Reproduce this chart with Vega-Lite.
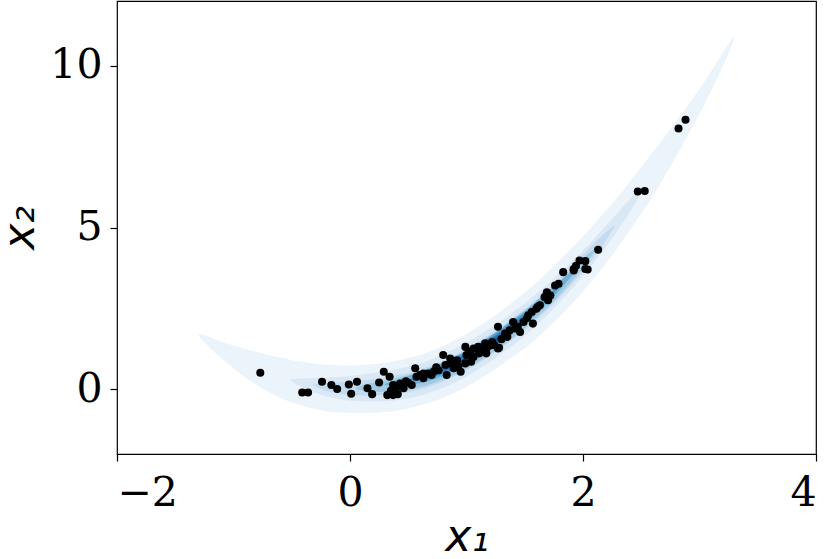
{
  "$schema": "https://vega.github.io/schema/vega-lite/v6.json",
  "width": 699,
  "height": 453,
  "autosize": {"type": "none"},
  "padding": {"left": 117, "top": 1, "right": 14, "bottom": 105},
  "background": "white",
  "config": {
    "view": {"stroke": "black", "strokeWidth": 1.2},
    "axis": {
      "domain": false,
      "grid": false,
      "tickColor": "black",
      "tickSize": 7,
      "tickWidth": 1.2,
      "labelFont": "DejaVu Serif",
      "labelFontSize": 41,
      "labelColor": "black",
      "titleFont": "DejaVu Sans",
      "titleFontStyle": "italic",
      "titleFontWeight": "normal",
      "titleFontSize": 44,
      "titleColor": "black"
    }
  },
  "datasets": {
    "contours": [
      {"level": "L1", "x": -1.30, "lo": 1.67, "hi": 1.71},
      {"level": "L1", "x": -1.27, "lo": 1.52, "hi": 1.70},
      {"level": "L1", "x": -1.2, "lo": 1.27, "hi": 1.61},
      {"level": "L1", "x": -1.1, "lo": 0.95, "hi": 1.47},
      {"level": "L1", "x": -1.0, "lo": 0.65, "hi": 1.35},
      {"level": "L1", "x": -0.9, "lo": 0.37, "hi": 1.25},
      {"level": "L1", "x": -0.8, "lo": 0.13, "hi": 1.15},
      {"level": "L1", "x": -0.7, "lo": -0.08, "hi": 1.06},
      {"level": "L1", "x": -0.6, "lo": -0.26, "hi": 0.98},
      {"level": "L1", "x": -0.5, "lo": -0.40, "hi": 0.90},
      {"level": "L1", "x": -0.4, "lo": -0.52, "hi": 0.84},
      {"level": "L1", "x": -0.3, "lo": -0.61, "hi": 0.79},
      {"level": "L1", "x": -0.2, "lo": -0.68, "hi": 0.76},
      {"level": "L1", "x": -0.1, "lo": -0.72, "hi": 0.74},
      {"level": "L1", "x": 0.0, "lo": -0.73, "hi": 0.73},
      {"level": "L1", "x": 0.1, "lo": -0.74, "hi": 0.74},
      {"level": "L1", "x": 0.2, "lo": -0.73, "hi": 0.77},
      {"level": "L1", "x": 0.3, "lo": -0.70, "hi": 0.82},
      {"level": "L1", "x": 0.4, "lo": -0.66, "hi": 0.88},
      {"level": "L1", "x": 0.5, "lo": -0.59, "hi": 0.97},
      {"level": "L1", "x": 0.6, "lo": -0.50, "hi": 1.06},
      {"level": "L1", "x": 0.7, "lo": -0.39, "hi": 1.19},
      {"level": "L1", "x": 0.8, "lo": -0.26, "hi": 1.34},
      {"level": "L1", "x": 0.9, "lo": -0.10, "hi": 1.52},
      {"level": "L1", "x": 1.0, "lo": 0.08, "hi": 1.72},
      {"level": "L1", "x": 1.1, "lo": 0.29, "hi": 1.93},
      {"level": "L1", "x": 1.2, "lo": 0.51, "hi": 2.17},
      {"level": "L1", "x": 1.3, "lo": 0.75, "hi": 2.43},
      {"level": "L1", "x": 1.4, "lo": 1.01, "hi": 2.71},
      {"level": "L1", "x": 1.5, "lo": 1.27, "hi": 2.99},
      {"level": "L1", "x": 1.6, "lo": 1.58, "hi": 3.30},
      {"level": "L1", "x": 1.7, "lo": 1.90, "hi": 3.64},
      {"level": "L1", "x": 1.8, "lo": 2.25, "hi": 3.99},
      {"level": "L1", "x": 1.9, "lo": 2.62, "hi": 4.36},
      {"level": "L1", "x": 2.0, "lo": 3.03, "hi": 4.73},
      {"level": "L1", "x": 2.1, "lo": 3.46, "hi": 5.12},
      {"level": "L1", "x": 2.2, "lo": 3.91, "hi": 5.53},
      {"level": "L1", "x": 2.3, "lo": 4.39, "hi": 5.95},
      {"level": "L1", "x": 2.4, "lo": 4.91, "hi": 6.41},
      {"level": "L1", "x": 2.5, "lo": 5.43, "hi": 6.87},
      {"level": "L1", "x": 2.6, "lo": 5.99, "hi": 7.33},
      {"level": "L1", "x": 2.7, "lo": 6.58, "hi": 7.80},
      {"level": "L1", "x": 2.8, "lo": 7.20, "hi": 8.28},
      {"level": "L1", "x": 2.9, "lo": 7.85, "hi": 8.77},
      {"level": "L1", "x": 3.0, "lo": 8.52, "hi": 9.28},
      {"level": "L1", "x": 3.1, "lo": 9.23, "hi": 9.83},
      {"level": "L1", "x": 3.2, "lo": 9.98, "hi": 10.40},
      {"level": "L1", "x": 3.27, "lo": 10.56, "hi": 10.78},
      {"level": "L1", "x": 3.30, "lo": 10.87, "hi": 10.91},

      {"level": "L2", "x": -0.51, "lo": 0.27, "hi": 0.31},
      {"level": "L2", "x": -0.45, "lo": 0.13, "hi": 0.33},
      {"level": "L2", "x": -0.4, "lo": 0.04, "hi": 0.34},
      {"level": "L2", "x": -0.3, "lo": -0.11, "hi": 0.35},
      {"level": "L2", "x": -0.2, "lo": -0.22, "hi": 0.36},
      {"level": "L2", "x": -0.1, "lo": -0.30, "hi": 0.38},
      {"level": "L2", "x": 0.0, "lo": -0.35, "hi": 0.41},
      {"level": "L2", "x": 0.1, "lo": -0.37, "hi": 0.45},
      {"level": "L2", "x": 0.2, "lo": -0.38, "hi": 0.50},
      {"level": "L2", "x": 0.3, "lo": -0.37, "hi": 0.55},
      {"level": "L2", "x": 0.4, "lo": -0.34, "hi": 0.62},
      {"level": "L2", "x": 0.5, "lo": -0.28, "hi": 0.70},
      {"level": "L2", "x": 0.6, "lo": -0.20, "hi": 0.80},
      {"level": "L2", "x": 0.7, "lo": -0.09, "hi": 0.93},
      {"level": "L2", "x": 0.8, "lo": 0.04, "hi": 1.08},
      {"level": "L2", "x": 0.9, "lo": 0.21, "hi": 1.25},
      {"level": "L2", "x": 1.0, "lo": 0.40, "hi": 1.44},
      {"level": "L2", "x": 1.1, "lo": 0.61, "hi": 1.65},
      {"level": "L2", "x": 1.2, "lo": 0.84, "hi": 1.88},
      {"level": "L2", "x": 1.3, "lo": 1.10, "hi": 2.12},
      {"level": "L2", "x": 1.4, "lo": 1.37, "hi": 2.39},
      {"level": "L2", "x": 1.5, "lo": 1.65, "hi": 2.65},
      {"level": "L2", "x": 1.6, "lo": 1.97, "hi": 2.95},
      {"level": "L2", "x": 1.7, "lo": 2.32, "hi": 3.26},
      {"level": "L2", "x": 1.8, "lo": 2.69, "hi": 3.59},
      {"level": "L2", "x": 1.9, "lo": 3.09, "hi": 3.93},
      {"level": "L2", "x": 2.0, "lo": 3.51, "hi": 4.29},
      {"level": "L2", "x": 2.1, "lo": 3.95, "hi": 4.67},
      {"level": "L2", "x": 2.2, "lo": 4.42, "hi": 5.06},
      {"level": "L2", "x": 2.3, "lo": 4.92, "hi": 5.46},
      {"level": "L2", "x": 2.4, "lo": 5.46, "hi": 5.86},
      {"level": "L2", "x": 2.47, "lo": 5.89, "hi": 6.11},
      {"level": "L2", "x": 2.52, "lo": 6.23, "hi": 6.27},

      {"level": "L3", "x": -0.31, "lo": 0.11, "hi": 0.15},
      {"level": "L3", "x": -0.25, "lo": 0.01, "hi": 0.17},
      {"level": "L3", "x": -0.2, "lo": -0.05, "hi": 0.19},
      {"level": "L3", "x": -0.1, "lo": -0.13, "hi": 0.21},
      {"level": "L3", "x": 0.0, "lo": -0.17, "hi": 0.23},
      {"level": "L3", "x": 0.1, "lo": -0.19, "hi": 0.27},
      {"level": "L3", "x": 0.2, "lo": -0.19, "hi": 0.31},
      {"level": "L3", "x": 0.3, "lo": -0.18, "hi": 0.36},
      {"level": "L3", "x": 0.4, "lo": -0.15, "hi": 0.43},
      {"level": "L3", "x": 0.5, "lo": -0.09, "hi": 0.51},
      {"level": "L3", "x": 0.6, "lo": -0.01, "hi": 0.61},
      {"level": "L3", "x": 0.7, "lo": 0.10, "hi": 0.74},
      {"level": "L3", "x": 0.8, "lo": 0.23, "hi": 0.89},
      {"level": "L3", "x": 0.9, "lo": 0.40, "hi": 1.06},
      {"level": "L3", "x": 1.0, "lo": 0.59, "hi": 1.25},
      {"level": "L3", "x": 1.1, "lo": 0.80, "hi": 1.46},
      {"level": "L3", "x": 1.2, "lo": 1.03, "hi": 1.69},
      {"level": "L3", "x": 1.3, "lo": 1.28, "hi": 1.94},
      {"level": "L3", "x": 1.4, "lo": 1.55, "hi": 2.21},
      {"level": "L3", "x": 1.5, "lo": 1.83, "hi": 2.47},
      {"level": "L3", "x": 1.6, "lo": 2.14, "hi": 2.78},
      {"level": "L3", "x": 1.7, "lo": 2.48, "hi": 3.10},
      {"level": "L3", "x": 1.8, "lo": 2.84, "hi": 3.44},
      {"level": "L3", "x": 1.9, "lo": 3.23, "hi": 3.79},
      {"level": "L3", "x": 2.0, "lo": 3.64, "hi": 4.16},
      {"level": "L3", "x": 2.1, "lo": 4.09, "hi": 4.53},
      {"level": "L3", "x": 2.18, "lo": 4.50, "hi": 4.80},
      {"level": "L3", "x": 2.27, "lo": 5.03, "hi": 5.07},

      {"level": "L4", "x": 0.05, "lo": 0.01, "hi": 0.05},
      {"level": "L4", "x": 0.1, "lo": -0.04, "hi": 0.12},
      {"level": "L4", "x": 0.2, "lo": -0.08, "hi": 0.20},
      {"level": "L4", "x": 0.3, "lo": -0.08, "hi": 0.26},
      {"level": "L4", "x": 0.4, "lo": -0.07, "hi": 0.35},
      {"level": "L4", "x": 0.5, "lo": -0.02, "hi": 0.44},
      {"level": "L4", "x": 0.6, "lo": 0.06, "hi": 0.54},
      {"level": "L4", "x": 0.7, "lo": 0.17, "hi": 0.67},
      {"level": "L4", "x": 0.8, "lo": 0.30, "hi": 0.82},
      {"level": "L4", "x": 0.9, "lo": 0.45, "hi": 1.01},
      {"level": "L4", "x": 1.0, "lo": 0.64, "hi": 1.20},
      {"level": "L4", "x": 1.1, "lo": 0.85, "hi": 1.41},
      {"level": "L4", "x": 1.2, "lo": 1.08, "hi": 1.64},
      {"level": "L4", "x": 1.3, "lo": 1.33, "hi": 1.89},
      {"level": "L4", "x": 1.4, "lo": 1.60, "hi": 2.16},
      {"level": "L4", "x": 1.5, "lo": 1.89, "hi": 2.41},
      {"level": "L4", "x": 1.6, "lo": 2.21, "hi": 2.71},
      {"level": "L4", "x": 1.7, "lo": 2.55, "hi": 3.03},
      {"level": "L4", "x": 1.8, "lo": 2.92, "hi": 3.36},
      {"level": "L4", "x": 1.9, "lo": 3.33, "hi": 3.69},
      {"level": "L4", "x": 2.0, "lo": 3.76, "hi": 4.04},
      {"level": "L4", "x": 2.07, "lo": 4.10, "hi": 4.26},
      {"level": "L4", "x": 2.12, "lo": 4.37, "hi": 4.41},

      {"level": "L5", "x": 0.3, "lo": 0.13, "hi": 0.17},
      {"level": "L5", "x": 0.4, "lo": 0.11, "hi": 0.29},
      {"level": "L5", "x": 0.5, "lo": 0.13, "hi": 0.41},
      {"level": "L5", "x": 0.6, "lo": 0.19, "hi": 0.53},
      {"level": "L5", "x": 0.7, "lo": 0.28, "hi": 0.68},
      {"level": "L5", "x": 0.8, "lo": 0.41, "hi": 0.83},
      {"level": "L5", "x": 0.9, "lo": 0.57, "hi": 1.01},
      {"level": "L5", "x": 1.0, "lo": 0.76, "hi": 1.20},
      {"level": "L5", "x": 1.1, "lo": 0.97, "hi": 1.41},
      {"level": "L5", "x": 1.2, "lo": 1.20, "hi": 1.64},
      {"level": "L5", "x": 1.3, "lo": 1.45, "hi": 1.89},
      {"level": "L5", "x": 1.4, "lo": 1.72, "hi": 2.16},
      {"level": "L5", "x": 1.5, "lo": 2.00, "hi": 2.42},
      {"level": "L5", "x": 1.6, "lo": 2.32, "hi": 2.72},
      {"level": "L5", "x": 1.7, "lo": 2.68, "hi": 3.02},
      {"level": "L5", "x": 1.8, "lo": 3.07, "hi": 3.33},
      {"level": "L5", "x": 1.9, "lo": 3.49, "hi": 3.65},
      {"level": "L5", "x": 1.97, "lo": 3.80, "hi": 3.84},

      {"level": "L6", "x": 0.5, "lo": 0.25, "hi": 0.29},
      {"level": "L6", "x": 0.6, "lo": 0.28, "hi": 0.44},
      {"level": "L6", "x": 0.7, "lo": 0.35, "hi": 0.61},
      {"level": "L6", "x": 0.8, "lo": 0.47, "hi": 0.77},
      {"level": "L6", "x": 0.9, "lo": 0.62, "hi": 0.96},
      {"level": "L6", "x": 1.0, "lo": 0.81, "hi": 1.15},
      {"level": "L6", "x": 1.1, "lo": 1.02, "hi": 1.36},
      {"level": "L6", "x": 1.2, "lo": 1.25, "hi": 1.59},
      {"level": "L6", "x": 1.3, "lo": 1.50, "hi": 1.84},
      {"level": "L6", "x": 1.4, "lo": 1.79, "hi": 2.09},
      {"level": "L6", "x": 1.5, "lo": 2.07, "hi": 2.35},
      {"level": "L6", "x": 1.6, "lo": 2.41, "hi": 2.63},
      {"level": "L6", "x": 1.7, "lo": 2.78, "hi": 2.92},
      {"level": "L6", "x": 1.78, "lo": 3.09, "hi": 3.13},

      {"level": "L7", "x": 0.7, "lo": 0.46, "hi": 0.50},
      {"level": "L7", "x": 0.8, "lo": 0.54, "hi": 0.70},
      {"level": "L7", "x": 0.9, "lo": 0.69, "hi": 0.89},
      {"level": "L7", "x": 1.0, "lo": 0.86, "hi": 1.10},
      {"level": "L7", "x": 1.1, "lo": 1.07, "hi": 1.31},
      {"level": "L7", "x": 1.2, "lo": 1.30, "hi": 1.54},
      {"level": "L7", "x": 1.3, "lo": 1.57, "hi": 1.77},
      {"level": "L7", "x": 1.4, "lo": 1.85, "hi": 2.03},
      {"level": "L7", "x": 1.5, "lo": 2.15, "hi": 2.27},
      {"level": "L7", "x": 1.58, "lo": 2.42, "hi": 2.46},

      {"level": "L8", "x": 0.95, "lo": 0.84, "hi": 0.88},
      {"level": "L8", "x": 1.05, "lo": 0.995, "hi": 1.125},
      {"level": "L8", "x": 1.15, "lo": 1.21, "hi": 1.35},
      {"level": "L8", "x": 1.25, "lo": 1.455, "hi": 1.585},
      {"level": "L8", "x": 1.35, "lo": 1.75, "hi": 1.81}
    ],
    "samples": [
      {"x1": -0.77, "x2": 0.51}, {"x1": -0.41, "x2": -0.10}, {"x1": -0.36, "x2": -0.10},
      {"x1": -0.24, "x2": 0.23}, {"x1": -0.16, "x2": 0.13}, {"x1": -0.11, "x2": 0.01},
      {"x1": -0.01, "x2": 0.15}, {"x1": 0.01, "x2": -0.14}, {"x1": 0.06, "x2": 0.23},
      {"x1": 0.15, "x2": 0.03}, {"x1": 0.19, "x2": -0.15}, {"x1": 0.25, "x2": 0.21},
      {"x1": 0.29, "x2": 0.54}, {"x1": 0.34, "x2": 0.39}, {"x1": 0.32, "x2": -0.18},
      {"x1": 0.37, "x2": -0.18}, {"x1": 0.41, "x2": -0.15}, {"x1": 0.37, "x2": 0.13},
      {"x1": 0.43, "x2": 0.18}, {"x1": 0.46, "x2": 0.03}, {"x1": 0.53, "x2": 0.13},
      {"x1": 0.56, "x2": 0.65}, {"x1": 0.57, "x2": 0.39}, {"x1": 0.63, "x2": 0.49},
      {"x1": 0.67, "x2": 0.49}, {"x1": 0.40, "x2": 0.06}, {"x1": 0.35, "x2": -0.05},
      {"x1": 0.48, "x2": 0.25}, {"x1": 0.60, "x2": 0.44}, {"x1": 0.63, "x2": 0.34},
      {"x1": 0.70, "x2": 0.44}, {"x1": 0.76, "x2": 0.59}, {"x1": 0.80, "x2": 1.06},
      {"x1": 0.82, "x2": 0.75}, {"x1": 0.83, "x2": 0.44}, {"x1": 0.87, "x2": 0.80},
      {"x1": 0.89, "x2": 0.65}, {"x1": 0.92, "x2": 0.90}, {"x1": 0.93, "x2": 0.70},
      {"x1": 0.95, "x2": 0.54}, {"x1": 0.99, "x2": 1.31}, {"x1": 1.00, "x2": 1.06},
      {"x1": 0.99, "x2": 0.80}, {"x1": 1.03, "x2": 1.16}, {"x1": 1.06, "x2": 1.00},
      {"x1": 1.04, "x2": 0.85}, {"x1": 1.09, "x2": 1.26}, {"x1": 1.11, "x2": 1.11},
      {"x1": 1.16, "x2": 1.42}, {"x1": 1.17, "x2": 1.11}, {"x1": 1.06, "x2": 1.26},
      {"x1": 1.10, "x2": 1.31}, {"x1": 1.17, "x2": 1.26}, {"x1": 1.22, "x2": 1.46},
      {"x1": 1.24, "x2": 1.36}, {"x1": 1.27, "x2": 1.26}, {"x1": 1.27, "x2": 1.93},
      {"x1": 1.33, "x2": 1.72}, {"x1": 1.37, "x2": 1.82}, {"x1": 1.40, "x2": 2.08},
      {"x1": 1.42, "x2": 1.88}, {"x1": 1.44, "x2": 1.93}, {"x1": 1.46, "x2": 1.77},
      {"x1": 1.49, "x2": 2.08}, {"x1": 1.53, "x2": 2.29}, {"x1": 1.56, "x2": 2.39},
      {"x1": 1.57, "x2": 2.03}, {"x1": 1.60, "x2": 2.49}, {"x1": 1.61, "x2": 2.54},
      {"x1": 1.67, "x2": 2.85}, {"x1": 1.69, "x2": 3.00}, {"x1": 1.72, "x2": 2.90},
      {"x1": 1.70, "x2": 2.75}, {"x1": 1.76, "x2": 3.21}, {"x1": 1.79, "x2": 3.26},
      {"x1": 1.83, "x2": 3.62}, {"x1": 1.92, "x2": 3.72}, {"x1": 1.94, "x2": 3.82},
      {"x1": 2.02, "x2": 3.72}, {"x1": 2.13, "x2": 4.31}, {"x1": 1.97, "x2": 3.98},
      {"x1": 2.02, "x2": 3.96}, {"x1": 2.04, "x2": 3.70}, {"x1": 1.92, "x2": 3.67},
      {"x1": 2.47, "x2": 6.11}, {"x1": 2.53, "x2": 6.13}, {"x1": 2.82, "x2": 8.06},
      {"x1": 2.88, "x2": 8.33}, {"x1": 1.28, "x2": 1.28}, {"x1": 1.20, "x2": 1.35},
      {"x1": 1.30, "x2": 1.55}, {"x1": 1.35, "x2": 1.62}, {"x1": 0.74, "x2": 0.68},
      {"x1": 0.86, "x2": 0.95}, {"x1": 1.13, "x2": 1.20}, {"x1": 0.72, "x2": 0.55},
      {"x1": 0.50, "x2": 0.20}, {"x1": 1.52, "x2": 2.20}, {"x1": 1.63, "x2": 2.60},
      {"x1": 0.90, "x2": 0.75}
    ]
  },
  "layer": [
    {
      "data": {"name": "contours"},
      "mark": {"type": "area", "interpolate": "monotone", "opacity": 1},
      "encoding": {
        "x": {"field": "x", "type": "quantitative", "scale": {"domain": [-2, 4], "nice": false, "zero": false},
              "axis": {"values": [-2, 0, 2, 4], "format": "d", "labelPadding": 12, "title": "x₁", "titlePadding": 2}},
        "y": {"field": "lo", "type": "quantitative", "stack": null, "scale": {"domain": [-2, 12], "nice": false, "zero": false},
              "axis": {"values": [0, 5, 10], "format": "d", "labelPadding": 8, "title": "x₂", "titlePadding": 7}},
        "y2": {"field": "hi"},
        "color": {"field": "level", "type": "nominal", "legend": null,
                  "scale": {"domain": ["L1", "L2", "L3", "L4", "L5", "L6", "L7", "L8"],
                            "range": ["#ebf3fb", "#dae8f5", "#c4daee", "#9fcae1", "#6eb0d7", "#4594c7", "#2474b6", "#0d57a1"]}}
      }
    },
    {
      "data": {"name": "samples"},
      "mark": {"type": "circle", "color": "black", "size": 65, "opacity": 1},
      "encoding": {
        "x": {"field": "x1", "type": "quantitative"},
        "y": {"field": "x2", "type": "quantitative"}
      }
    }
  ]
}
